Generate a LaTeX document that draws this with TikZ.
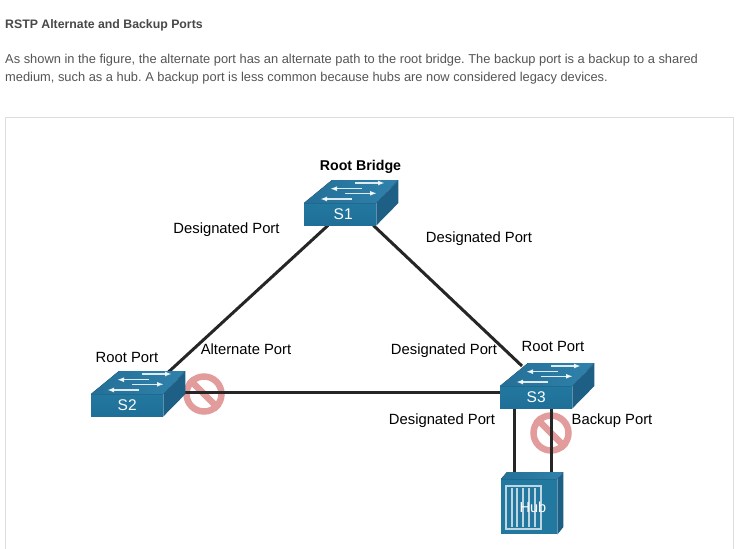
\documentclass[tikz,border=0pt]{standalone}
\usepackage{fontspec}
\setmainfont{Liberation Sans}
\usetikzlibrary{backgrounds,calc,arrows.meta}
\definecolor{swfront}{HTML}{23789F}
\definecolor{swfrontb}{HTML}{1F6F98}
\definecolor{swtop}{HTML}{2F82AC}
\definecolor{swtopd}{HTML}{246F97}
\definecolor{swside}{HTML}{1D5F85}
\definecolor{stopc}{HTML}{E39C9C}
\definecolor{bodyc}{HTML}{555555}
\definecolor{panelc}{HTML}{DDDDDD}
\tikzset{
  px/.style={x=1pt,y=-1pt},
  swbox/.style={rectangle,inner sep=0pt,minimum width=72pt,minimum height=22pt,top color=swfront,bottom color=swfrontb,text=white,font=\fontsize{15.5}{15.5}\selectfont},
  swtopface/.style={left color=swtopd,right color=swtop},
  swsideface/.style={fill=swside},
  swarrow/.style={white,line width=1.4pt,-{Latex[length=7pt,width=5pt]},opacity=.85},
  link/.style={line width=3pt,black!85},
  lbl/.style={inner sep=0pt,font=\fontsize{14.8}{16}\selectfont,text=black},
  stopring/.style={draw=stopc,line width=6.5pt,fill=none,circle,minimum size=35pt,inner sep=0pt},
  stopbar/.style={stopc,line width=6.5pt},
  hubline/.style={white!70!swfront,line width=1.1pt},
}
\newcommand{\netswitch}[4]{%
  \node[swbox,anchor=north west] (#1) at (#2,#3) {#4};
  \fill[swtopface] (#1.north west) -- ++(28,-23) -- ++(66,0) -- (#1.north east) -- cycle;
  \fill[swsideface] (#1.north east) -- ++(22,-23) -- ++(0,23) -- (#1.south east) -- cycle;
  \draw[swarrow] ($(#1.north west)+(51,-20)$) -- ++(30,0);
  \draw[swarrow] ($(#1.north west)+(58,-14.3)$) -- ++(-32,0);
  \draw[swarrow] ($(#1.north west)+(41,-9.7)$) -- ++(32,0);
  \draw[swarrow] ($(#1.north west)+(48,-4)$) -- ++(-32,0);
}
\begin{document}
\frenchspacing
\begin{tikzpicture}[px]
\useasboundingbox (0,0) rectangle (737,549);
% page text
\node[anchor=base west,inner sep=0pt,text=bodyc!85!black,font=\fontsize{12.3}{14}\selectfont\bfseries] (title) at (5,28) {RSTP Alternate and Backup Ports};
\node[anchor=base west,inner sep=0pt,text=bodyc,font=\fontsize{12.86}{14}\selectfont] (line1) at (5,63) {As shown in the figure, the alternate port has an alternate path to the root bridge. The backup port is a backup to a shared};
\node[anchor=base west,inner sep=0pt,text=bodyc,font=\fontsize{12.86}{14}\selectfont] (line2) at (5,81) {medium, such as a hub. A backup port is less common because hubs are now considered legacy devices.};
\draw[panelc,line width=1pt] (5.5,549.5) -- (5.5,117.5) -- (733.5,117.5) -- (733.5,549.5);
% devices
\netswitch{S1}{304}{203}{\hspace{6pt}S1}
\netswitch{S2}{91}{394}{S2}
\netswitch{S3}{500}{386}{S3}
% hub
\node[rectangle,inner sep=0pt,minimum width=56pt,minimum height=55pt,anchor=north west,fill=swfront] (hub) at (501,479) {};
\fill[swtopface] (hub.north west) -- ++(6,-7) -- ++(56,0) -- (hub.north east) -- cycle;
\fill[swsideface] (hub.north east) -- ++(6,-7) -- ++(0,55) -- (hub.south east) -- cycle;
\draw[hubline] ($(hub.north west)+(5,7)$) rectangle ($(hub.north west)+(40,50)$);
\foreach \i in {11,16,22,28,34}{\draw[hubline] ($(hub.north west)+(\i,9)$) -- ($(hub.north west)+(\i,48)$);}
\node[inner sep=0pt,text=white,font=\fontsize{14.5}{14}\selectfont] (hublabel) at (533,507) {Hub};
% connectors and stop signs
\begin{scope}[on background layer]
  \fill[white] (0,0) rectangle (737,549);
  \node[stopring] (stopA) at (204,394) {};
  \draw[stopbar] (stopA.north west) -- (stopA.south east);
  \node[stopring] (stopB) at (551,433) {};
  \draw[stopbar] (stopB.north west) -- (stopB.south east);
  \draw[link] ([xshift=24pt]S1.south west) -- ([shift={(4pt,21pt)}]S2.north east);
  \draw[link] ([xshift=-3pt]S1.south east) -- ([shift={(22pt,20pt)}]S3.north west);
  \draw[link] ([shift={(21pt,2pt)}]S2.north east) -- ([yshift=-6pt]S3.north west);
  \draw[link] ([xshift=14pt]S3.south west) -- ([yshift=7pt,xshift=13pt]hub.north west);
  \draw[link] ([xshift=51pt]S3.south west) -- ([yshift=7pt,xshift=50pt]hub.north west);
\end{scope}
% labels
\node[lbl,font=\fontsize{14.2}{16}\selectfont\bfseries] (root) at (360.5,167) {Root Bridge};
\node[lbl] (d1) at (226.5,230) {Designated Port};
\node[lbl] (d2) at (479,239) {Designated Port};
\node[lbl] (a1) at (246,349) {Alternate Port};
\node[lbl] (d3) at (444,351) {Designated Port};
\node[lbl] (r3) at (553,346) {Root Port};
\node[lbl] (r2) at (127,357) {Root Port};
\node[lbl] (d4) at (442,421) {Designated Port};
\node[lbl] (b1) at (612,421) {Backup Port};
\end{tikzpicture}
\end{document}
